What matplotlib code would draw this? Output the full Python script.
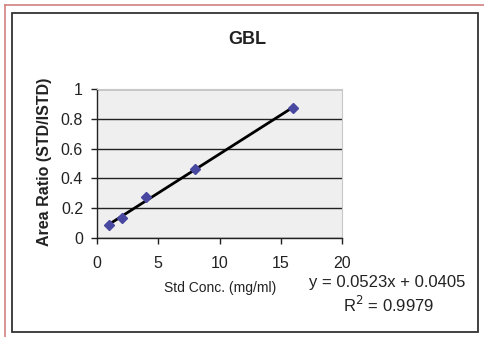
import matplotlib
matplotlib.use("Agg")
import matplotlib.pyplot as plt
from matplotlib.patches import Rectangle
from matplotlib.lines import Line2D
import numpy as np

plt.rcParams['font.family'] = ['Liberation Sans', 'DejaVu Sans']

# Calibration standards for GBL
conc = [1, 2, 4, 8, 16]
ratio = [0.085, 0.135, 0.275, 0.465, 0.875]
slope = 0.0523
intercept = 0.0405
r2 = 0.9979

x_ticks = [0, 5, 10, 15, 20]
y_ticks = [0, 0.2, 0.4, 0.6, 0.8, 1]
y_tick_labels = ['0', '0.2', '0.4', '0.6', '0.8', '1']

W, H = 484, 337
fig = plt.figure(figsize=(W / 100, H / 100), dpi=100)
fig.patch.set_facecolor('white')

def fx(px):
    return px / W

def fy(py):
    return 1 - py / H

# page borders
fig.add_artist(Line2D([fx(5), fx(5)], [fy(5), 0], color='#d08080', lw=1.2,
                      transform=fig.transFigure))
fig.add_artist(Line2D([fx(5), 1], [fy(5), fy(5)], color='#d08080', lw=1.2,
                      transform=fig.transFigure))
fig.add_artist(Rectangle((fx(12), fy(332)), fx(478) - fx(12), fy(13) - fy(332),
                         fill=False, edgecolor='#333333', lw=1.3,
                         transform=fig.transFigure))

left, right, top, bottom = 97, 342, 89, 238
ax = fig.add_axes([fx(left), fy(bottom), fx(right) - fx(left), fy(top) - fy(bottom)])
ax.set_facecolor('#efefef')

ax.set_xlim(0, 20)
ax.set_ylim(0, 1)
ax.set_xticks(x_ticks)
ax.set_yticks(y_ticks)
ax.set_yticklabels(y_tick_labels)
ax.tick_params(axis='both', labelsize=11.5, length=4, width=1, color='#222222',
               labelcolor='#222222', direction='out')
ax.tick_params(axis='x', pad=9)
ax.tick_params(axis='y', pad=6)

ax.grid(axis='y', color='#222222', lw=1)
ax.set_axisbelow(True)
for s in ['top', 'right']:
    ax.spines[s].set_color('#c8c8c8')
    ax.spines[s].set_linewidth(0.8)
for s in ['left', 'bottom']:
    ax.spines[s].set_color('#222222')
    ax.spines[s].set_linewidth(1)

# linear trend line
xfit = np.array([min(conc), max(conc)])
ax.plot(xfit, slope * xfit + intercept, color='black', lw=2, zorder=3)
ax.plot(conc, ratio, linestyle='none', marker='D', markersize=5,
        color='#4848a0', zorder=4)

fig.text(fx(247), fy(39), 'GBL', ha='center', va='center', fontsize=13,
         fontweight='bold', color='#222222')
fig.text(fx(45), fy(162), 'Area Ratio (STD/ISTD)', ha='center', va='center',
         rotation=90, fontsize=11.5, fontweight='bold', color='#222222')
fig.text(fx(220), fy(288), 'Std Conc. (mg/ml)', ha='center', va='center',
         fontsize=10, color='#222222')
fig.text(fx(387), fy(282), f'y = {slope}x + {intercept}', ha='center',
         va='center', fontsize=12, color='#222222')
fig.text(fx(389), fy(305), f'R$^2$ = {r2}', ha='center', va='center',
         fontsize=12, color='#222222')

fig.savefig('out.png', dpi=100)
